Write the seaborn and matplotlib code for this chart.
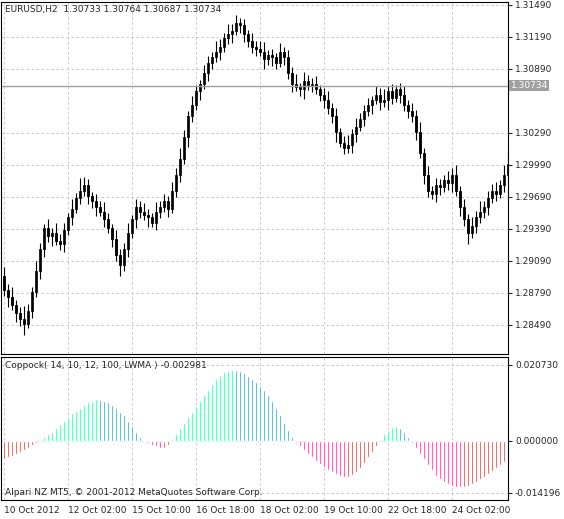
import numpy as np
import pandas as pd
import seaborn as sns
import matplotlib
matplotlib.use("Agg")
import matplotlib.pyplot as plt

closes = [1.2882,1.2875,1.2868,1.2860,1.2855,1.2850,1.2862,1.2880,1.2900,1.2920,
1.2940,1.2932,1.2935,1.2928,1.2925,1.2938,1.2950,1.2958,1.2968,1.2975,
1.2980,1.2970,1.2965,1.2960,1.2955,1.2948,1.2940,1.2930,1.2915,1.2905,
1.2920,1.2935,1.2948,1.2960,1.2955,1.2952,1.2950,1.2945,1.2955,1.2960,
1.2965,1.2958,1.2975,1.2990,1.3005,1.3025,1.3045,1.3055,1.3068,1.3075,
1.3085,1.3095,1.3100,1.3105,1.3110,1.3118,1.3122,1.3125,1.3132,1.3130,
1.3122,1.3115,1.3110,1.3108,1.3105,1.3098,1.3102,1.3100,1.3095,1.3105,
1.3100,1.3085,1.3075,1.3072,1.3070,1.3078,1.3074,1.3075,1.3070,1.3065,
1.3060,1.3052,1.3045,1.3030,1.3020,1.3015,1.3018,1.3028,1.3035,1.3042,
1.3050,1.3055,1.3060,1.3065,1.3058,1.3060,1.3068,1.3062,1.3070,1.3065,
1.3055,1.3050,1.3045,1.3030,1.3010,1.2990,1.2975,1.2972,1.2980,1.2978,
1.2985,1.2982,1.2990,1.2975,1.2960,1.2948,1.2935,1.2942,1.2950,1.2955,
1.2960,1.2968,1.2975,1.2972,1.2980,1.2990,1.3000]
opens = [1.2895] + closes[:-1]
wick_up = [8,5,10,4,6,12,7,5,9,6, 4,8,5,10,6,7,4,9,5,12, 8,6,4,7,5,9,6,4,8,5,
           6,10,4,7,5,8,6,4,9,5, 7,5,8,6,10,7,5,9,6,4, 8,6,5,10,7,5,9,6,8,5,
           6,4,8,5,7,9,5,6,4,8, 5,7,6,9,4,8,5,6,7,4, 6,8,5,7,4,6,9,5,8,6,
           5,7,4,8,6,10,5,7,4,6, 8,5,7,6,9,5,8,4,7,6, 5,8,6,9,4,7,5,8,6,10,
           5,7,6,8,5,9,12]
wick_dn = [6,9,5,8,7,10,4,6,5,8, 7,5,9,4,6,8,5,7,4,6, 5,8,6,9,4,7,5,8,6,10,
           5,7,4,8,6,5,9,4,7,6, 5,8,4,6,7,5,9,6,4,8, 5,7,6,4,8,5,6,9,4,7,
           8,5,6,7,4,9,5,8,6,4, 7,5,8,4,6,9,5,7,4,6, 8,5,7,9,4,6,5,8,7,4,
           6,5,8,4,7,5,9,6,4,8, 5,7,6,8,4,9,6,5,8,7, 4,6,8,5,9,6,10,4,7,5,
           6,8,5,7,4,6,5]
coppock = [-5,-4.5,-4,-3.5,-3,-2.5,-2,-1.2,-0.5,0.3,
1,1.8,2.5,3.5,4.5,5.5,6.5,7.5,8.3,9,
9.8,10.5,11,11.5,11.3,11,10.5,9.8,9,8,
7,5.5,4,2.5,1,-0.3,-0.6,-1,-1.5,-2,
-1.8,-1,0.5,2,3.5,5,6.5,8,9.5,11,
12.5,14,15.5,17,18,18.8,19.2,19.4,19.3,19,
18.5,17.8,17,16,15,13.8,12.5,11,9,7,
5,3,1,-0.5,-1.5,-2.5,-3.5,-4.5,-5.5,-6.3,
-7,-7.8,-8.5,-9,-9.5,-9.8,-9.7,-9.3,-8.5,-7.5,
-6,-4.5,-3,-1.5,0.5,2,3,3.8,4,3.5,
2.5,1,-0.5,-2,-3.5,-5,-6.5,-8,-9.5,-10.5,
-11.2,-11.8,-12.2,-12.5,-12.6,-12.5,-12.2,-11.8,-11.2,-10.5,
-9.8,-9,-8.2,-7.3,-6.5,-5.8,-5]
time_labels = ["10 Oct 2012","12 Oct 02:00","15 Oct 10:00","16 Oct 18:00",
               "18 Oct 02:00","19 Oct 10:00","22 Oct 18:00","24 Oct 02:00"]
price_ticks = [1.31490,1.31190,1.30890,1.30290,1.29990,1.29690,1.29390,1.29090,1.28790,1.28490]
ind_ticks = [0.020730, 0.0, -0.014196]
last_price = 1.30734

sns.set_style("white")
plt.rcParams['font.family'] = ['DejaVu Sans']

n = len(closes)
idx = np.arange(n)
o = np.array(opens); c = np.array(closes)
hi = np.maximum(o, c) + np.array(wick_up) * 0.0001
lo = np.minimum(o, c) - np.array(wick_dn) * 0.0001
cop = np.array(coppock) * 0.001

W, H = 564, 519
fig = plt.figure(figsize=(W/100, H/100), dpi=100)
ax1 = fig.add_axes([1/W, 1-354/H, 507/W, 352/H])
ax2 = fig.add_axes([1/W, 1-500/H, 507/W, 143/H])
xlim = (-0.75, 126.0)

ax1.vlines(idx, lo, hi, color='black', lw=0.8)
body_bottom = np.minimum(o, c)
body_h = np.maximum(np.abs(c - o), 0.00003)
face = ['white' if cc >= oo else 'black' for oo, cc in zip(o, c)]
ax1.bar(idx, body_h, bottom=body_bottom, width=0.6, color=face, edgecolor='black', lw=0.6)
ax1.axhline(last_price, color='#a0a0a0', lw=1)
ax1.set_xlim(*xlim)
ax1.set_ylim(1.28218, 1.31518)
ax1.set_yticks(price_ticks)
ax1.set_yticklabels([f"{t:.5f}" for t in price_ticks])
ax1.text(1.005, last_price, f"{last_price:.5f}", transform=ax1.get_yaxis_transform(),
         fontsize=6.5, color='white', va='center', ha='left',
         bbox=dict(boxstyle='square,pad=0.15', fc='#a0a0a0', ec='none'))
ax1.text(0.008, 0.992, "EURUSD,H2  1.30733 1.30764 1.30687 1.30734", transform=ax1.transAxes,
         fontsize=6.5, va='top', ha='left')

d = np.diff(cop, prepend=cop[0] - 0.0005)
cat = np.where(cop >= 0, np.where(d >= 0, 'pu', 'pd'), np.where(d < 0, 'nd', 'nu'))
df = pd.DataFrame({'i': idx, 'v': cop, 'cat': cat})
pal = {'pu': '#1CF08C', 'pd': '#2A88A8', 'nd': '#E8186E', 'nu': '#A8302A'}
sns.barplot(data=df, x='i', y='v', hue='cat', palette=pal, native_scale=True,
            legend=False, width=0.6, dodge=False, ax=ax2, saturation=1)
ax2.set_xlim(*xlim)
ax2.set_ylim(-0.01611, 0.02291)
ax2.set_yticks(ind_ticks)
ax2.set_yticklabels([f"{t:.6f}" for t in ind_ticks])
ax2.set_xlabel(''); ax2.set_ylabel('')
ax2.text(0.008, 0.975, "Coppock( 14, 10, 12, 100, LWMA ) -0.002981", transform=ax2.transAxes,
         fontsize=6.5, va='top', ha='left')
ax2.text(0.008, 0.02, "Alpari NZ MT5, © 2001-2012 MetaQuotes Software Corp.", transform=ax2.transAxes,
         fontsize=6.5, va='bottom', ha='left')

xt = np.arange(0, n, 16)[:len(time_labels)]
for ax in (ax1, ax2):
    ax.yaxis.tick_right()
    ax.tick_params(axis='y', labelsize=6.5, length=3, direction='out', pad=2)
    ax.set_xticks(xt)
    ax.grid(True, color='#c0c0c0', ls=(0, (3, 3)), lw=0.6)
    ax.set_axisbelow(True)
    for s in ax.spines.values():
        s.set_color('black'); s.set_linewidth(0.8)
ax1.tick_params(axis='x', labelbottom=False, length=0)
ax2.set_xticklabels(time_labels, fontsize=6.5, ha='left')
ax2.tick_params(axis='x', length=3, pad=1)
for lbl in ax2.get_xticklabels():
    lbl.set_horizontalalignment('left')

fig.savefig("out.png", dpi=100)
